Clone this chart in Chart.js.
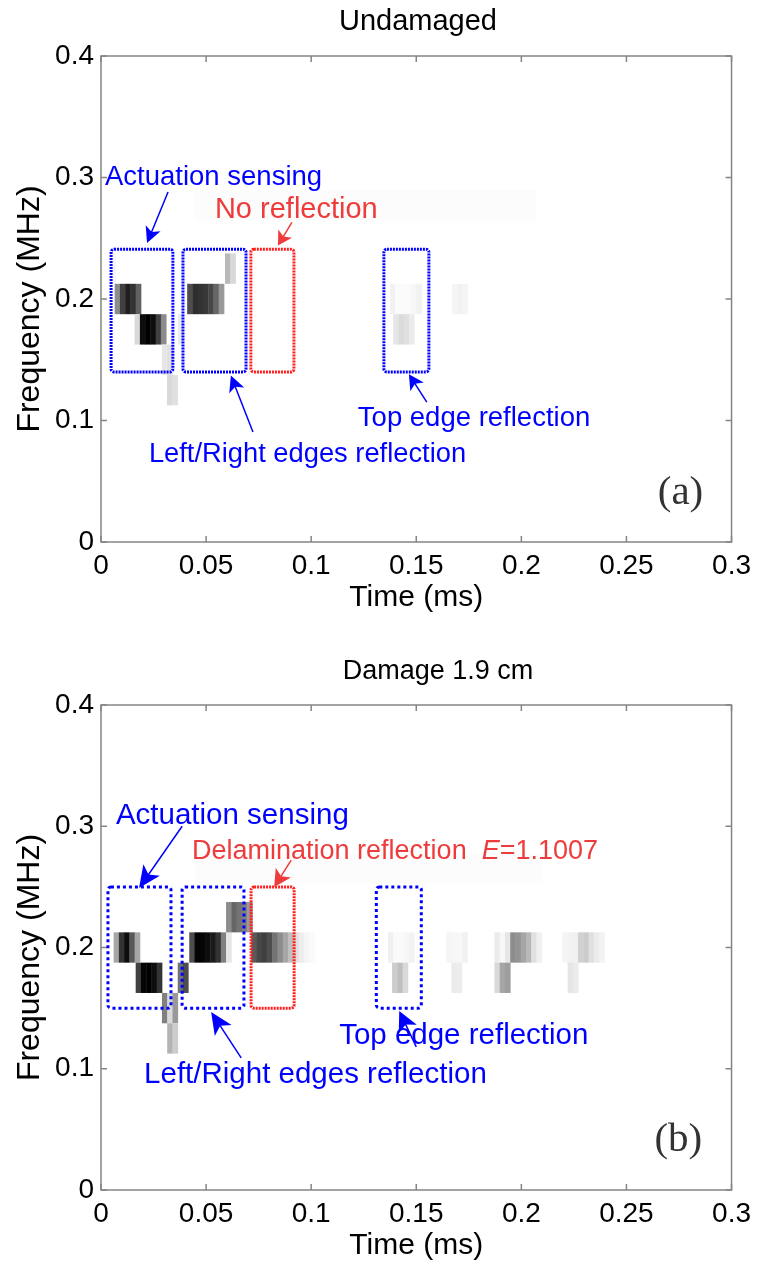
<!DOCTYPE html>
<html>
<head>
<meta charset="utf-8">
<script src="https://cdn.jsdelivr.net/npm/chart.js@4.4.1/dist/chart.umd.min.js"></script>
<style>
  body { margin: 0; background: #fff; }
  canvas { display: block; }
</style>
</head>
<body>
<canvas id="panel-a" width="758" height="630"></canvas>
<canvas id="panel-b" width="758" height="631"></canvas>
<script>
const xTicks = [0, 0.05, 0.1, 0.15, 0.2, 0.25, 0.3];
const xTickLabels = ["0", "0.05", "0.1", "0.15", "0.2", "0.25", "0.3"];
const yTicks = [0, 0.1, 0.2, 0.3, 0.4];
const yTickLabels = ["0", "0.1", "0.2", "0.3", "0.4"];

const timeStep = 0.0025; // ms per spectrogram column
const freqStep = 0.025;  // MHz per spectrogram row

// Undamaged plate: one run = start time, frequency row, gray level of each column (0 white, 1 black)
const undamagedStart = [0.0045, 0.0065, 0.016, 0.029, 0.0314, 0.0366, 0.041, 0.059, 0.1375, 0.139, 0.167];
const undamagedFreq = [0.225, 0.2, 0.175, 0.15, 0.125, 0.175, 0.2, 0.225, 0.2, 0.175, 0.2];
const undamagedLevels = [
  [0.04],
  [0.45, 0.75, 0.88, 0.8, 0.62],
  [0.15, 0.95, 1.0, 0.95, 0.75, 0.45],
  [0.1, 0.12],
  [0.15, 0.12],
  [0.08],
  [0.7, 0.82, 0.8, 0.78, 0.72, 0.6, 0.4],
  [0.28, 0.15],
  [0.05, 0.02, 0.02, 0.02, 0.03, 0.05],
  [0.1, 0.14, 0.12, 0.08],
  [0.04, 0.05, 0.04]
];
// faint wide wash above the main band
const undamagedWashStart = [0.044];
const undamagedWashEnd = [0.207];
const undamagedWashFreq = [0.277];
const undamagedWashLevel = [0.011];

// Plate with 1.9 cm delamination
const damagedStart = [0.006, 0.0165, 0.029, 0.0315, 0.0365, 0.042, 0.0595, 0.0715, 0.1365, 0.1385, 0.1643, 0.1667, 0.1872, 0.1872, 0.2195, 0.222];
const damagedFreq = [0.2, 0.175, 0.15, 0.125, 0.175, 0.2, 0.225, 0.2, 0.2, 0.175, 0.2, 0.175, 0.2, 0.175, 0.2, 0.175];
const damagedLevels = [
  [0.35, 0.8, 0.95, 0.65, 0.35],
  [0.75, 0.98, 1.0, 0.95, 0.8],
  [0.5, 0.15, 0.4],
  [0.3, 0.2],
  [0.55, 0.7],
  [0.7, 0.98, 0.98, 0.95, 0.9, 0.8, 0.5, 0.1],
  [0.45, 0.6, 0.55, 0.5, 0.4],
  [0.65, 0.72, 0.75, 0.7, 0.55, 0.45, 0.35, 0.25, 0.12, 0.07, 0.04, 0.02],
  [0.06, 0.02, 0.02, 0.03, 0.05],
  [0.2, 0.25, 0.15],
  [0.04, 0.03, 0.03, 0.05],
  [0.08, 0.07],
  [0.08, 0.03, 0.1, 0.45, 0.42, 0.35, 0.28, 0.12, 0.06],
  [0.15, 0.35, 0.38],
  [0.04, 0.05, 0.06, 0.18, 0.2, 0.12, 0.08, 0.05],
  [0.1, 0.08]
];
const damagedWashStart = [0.045];
const damagedWashEnd = [0.21];
const damagedWashFreq = [0.265];
const damagedWashLevel = [0.01];

const SANS = "'Liberation Sans', Arial, sans-serif";
const SERIF = "'Liberation Serif', 'Times New Roman', serif";
const BLUE = "#0000ff";
const RED_TEXT = "#ee3b3b";
const RED_BOX = "#ff1e1e";

function buildCells(starts, freqs, levels, washStart, washEnd, washFreq, washLevel) {
  const cells = [];
  for (let i = 0; i < washStart.length; i++) {
    cells.push({ x: (washStart[i] + washEnd[i]) / 2, y: washFreq[i], w: washEnd[i] - washStart[i], v: washLevel[i] });
  }
  for (let r = 0; r < starts.length; r++) {
    for (let c = 0; c < levels[r].length; c++) {
      cells.push({ x: starts[r] + (c + 0.5) * timeStep, y: freqs[r], w: timeStep, v: levels[r][c] });
    }
  }
  return cells;
}

// gray cells of the spectrogram, placed through the chart scales
const heatmapPlugin = {
  id: "heatmap",
  beforeDatasetsDraw(chart) {
    const { ctx, chartArea, scales } = chart;
    ctx.save();
    ctx.beginPath();
    ctx.rect(chartArea.left, chartArea.top, chartArea.right - chartArea.left, chartArea.bottom - chartArea.top);
    ctx.clip();
    for (const cell of chart.data.datasets[0].data) {
      const x0 = scales.x.getPixelForValue(cell.x - cell.w / 2);
      const x1 = scales.x.getPixelForValue(cell.x + cell.w / 2);
      const y0 = scales.y.getPixelForValue(cell.y + freqStep / 2);
      const y1 = scales.y.getPixelForValue(cell.y - freqStep / 2);
      const g = Math.round(255 * (1 - cell.v));
      ctx.fillStyle = `rgb(${g},${g},${g})`;
      ctx.fillRect(x0, y0, x1 - x0 + 0.4, y1 - y0);
    }
    ctx.restore();
  }
};

// box frame with inward ticks on all four sides
const framePlugin = {
  id: "frame",
  afterDraw(chart) {
    const { ctx, chartArea: a, scales } = chart;
    ctx.save();
    ctx.strokeStyle = "#858585";
    ctx.lineWidth = 1.5;
    ctx.strokeRect(a.left, a.top, a.right - a.left, a.bottom - a.top);
    ctx.beginPath();
    for (const v of xTicks) {
      const x = scales.x.getPixelForValue(v);
      ctx.moveTo(x, a.bottom); ctx.lineTo(x, a.bottom - 6);
      ctx.moveTo(x, a.top); ctx.lineTo(x, a.top + 6);
    }
    for (const v of yTicks) {
      const y = scales.y.getPixelForValue(v);
      ctx.moveTo(a.left, y); ctx.lineTo(a.left + 6, y);
      ctx.moveTo(a.right, y); ctx.lineTo(a.right - 6, y);
    }
    ctx.stroke();
    ctx.restore();
  }
};

function drawArrow(ctx, x1, y1, x2, y2, color, len, half) {
  const ang = Math.atan2(y2 - y1, x2 - x1);
  const c = Math.cos(ang), s = Math.sin(ang);
  ctx.strokeStyle = color;
  ctx.fillStyle = color;
  ctx.lineWidth = 1.5;
  ctx.beginPath();
  ctx.moveTo(x1, y1);
  ctx.lineTo(x2 - c * len * 0.7, y2 - s * len * 0.7);
  ctx.stroke();
  ctx.beginPath();
  ctx.moveTo(x2, y2);
  ctx.lineTo(x2 - c * len + s * half, y2 - s * len - c * half);
  ctx.lineTo(x2 - c * len * 0.75, y2 - s * len * 0.75);
  ctx.lineTo(x2 - c * len - s * half, y2 - s * len + c * half);
  ctx.closePath();
  ctx.fill();
}

// panel titles, dotted boxes, arrows and labels written in data coordinates
const notesPlugin = {
  id: "notes",
  afterDraw(chart, args, opts) {
    const { ctx, scales, chartArea } = chart;
    const px = (t) => scales.x.getPixelForValue(t);
    const py = (f) => scales.y.getPixelForValue(f);
    ctx.save();
    ctx.fillStyle = "#000";
    ctx.textAlign = "center";
    ctx.textBaseline = "middle";
    ctx.font = opts.titleSize + "px " + SANS;
    ctx.fillText(opts.title, opts.titleX, opts.titleY);

    // vertical axis name, sitting a little below the middle of the axis
    ctx.save();
    ctx.translate(30, (chartArea.top + chartArea.bottom) / 2 + 10);
    ctx.rotate(-Math.PI / 2);
    ctx.font = "32px " + SANS;
    ctx.fillText("Frequency (MHz)", 0, 0);
    ctx.restore();

    for (const b of opts.boxes || []) {
      const x0 = px(b.t0), x1 = px(b.t1), y0 = py(b.f1), y1 = py(b.f0);
      ctx.strokeStyle = b.color;
      ctx.lineWidth = 3;
      ctx.setLineDash(b.dash);
      ctx.beginPath();
      ctx.roundRect(x0, y0, x1 - x0, y1 - y0, 3);
      ctx.stroke();
    }
    ctx.setLineDash([]);
    for (const ar of opts.arrows || []) {
      drawArrow(ctx, px(ar.t0), py(ar.f0), px(ar.t1), py(ar.f1), ar.color, ar.len, ar.half);
    }
    ctx.textBaseline = "middle";
    ctx.textAlign = "left";
    for (const tx of opts.texts || []) {
      let x = px(tx.t);
      const y = py(tx.f);
      for (const part of tx.parts) {
        ctx.font = (part.italic ? "italic " : "") + tx.size + "px " + (tx.family || SANS);
        ctx.fillStyle = tx.color;
        ctx.fillText(part.text, x, y);
        x += ctx.measureText(part.text).width;
      }
    }
    ctx.restore();
  }
};

function makePanel(canvasId, cells, layout, notes) {
  const config = {
    type: "scatter",
    data: {
      datasets: [{ data: cells, pointRadius: 0, pointHoverRadius: 0 }]
    },
    options: {
      responsive: false,
      animation: false,
      devicePixelRatio: 1,
      events: [],
      layout: { padding: { left: 0, right: 26, top: layout.top, bottom: 0 } },
      plugins: {
        legend: { display: false },
        tooltip: { enabled: false },
        title: { display: false },
        notes: notes
      },
      scales: {
        x: {
          type: "linear",
          min: 0,
          max: 0.3,
          afterBuildTicks: (scale) => { scale.ticks = xTicks.map((v) => ({ value: v })); },
          afterFit: (scale) => { scale.height = layout.xHeight; },
          ticks: {
            callback: (value, index) => xTickLabels[index],
            color: "#000",
            font: { family: SANS, size: 28 },
            padding: 7,
            maxRotation: 0,
            autoSkip: false
          },
          grid: { display: false, drawTicks: false },
          border: { display: false },
          title: {
            display: true,
            text: "Time (ms)",
            color: "#000",
            font: { family: SANS, size: 30, lineHeight: 1 },
            padding: { top: 0, bottom: layout.xTitleBottom }
          }
        },
        y: {
          type: "linear",
          min: 0,
          max: 0.4,
          afterBuildTicks: (scale) => { scale.ticks = yTicks.map((v) => ({ value: v })); },
          afterFit: (scale) => { scale.width = 101; },
          ticks: {
            callback: (value, index) => yTickLabels[index],
            color: "#000",
            font: { family: SANS, size: 28 },
            padding: 7,
            autoSkip: false
          },
          grid: { display: false, drawTicks: false },
          border: { display: false },
          title: { display: false }
        }
      }
    },
    plugins: [heatmapPlugin, framePlugin, notesPlugin]
  };
  return new Chart(document.getElementById(canvasId), config);
}

const dotsDense = [2, 1];
const dotsSparse = [3, 3];

makePanel(
  "panel-a",
  buildCells(undamagedStart, undamagedFreq, undamagedLevels, undamagedWashStart, undamagedWashEnd, undamagedWashFreq, undamagedWashLevel),
  { top: 56, xHeight: 88, xTitleBottom: 17 },
  {
    title: "Undamaged",
    titleSize: 29,
    titleX: 418,
    titleY: 22,
    boxes: [
      { t0: 0.0048, t1: 0.0342, f0: 0.14, f1: 0.241, color: BLUE, dash: dotsDense },
      { t0: 0.039, t1: 0.069, f0: 0.14, f1: 0.241, color: BLUE, dash: dotsDense },
      { t0: 0.0713, t1: 0.0918, f0: 0.14, f1: 0.241, color: RED_BOX, dash: dotsDense },
      { t0: 0.1346, t1: 0.156, f0: 0.14, f1: 0.241, color: BLUE, dash: dotsDense }
    ],
    arrows: [
      { t0: 0.0319, f0: 0.288, t1: 0.0219, f1: 0.246, color: BLUE, len: 16, half: 8 },
      { t0: 0.0908, f0: 0.263, t1: 0.0842, f1: 0.244, color: RED_TEXT, len: 14, half: 8 },
      { t0: 0.0723, f0: 0.0905, t1: 0.0618, f1: 0.137, color: BLUE, len: 16, half: 8 },
      { t0: 0.155, f0: 0.1152, t1: 0.1465, f1: 0.138, color: BLUE, len: 15, half: 8 }
    ],
    texts: [
      { t: 0.0019, f: 0.300, size: 27.5, color: BLUE, parts: [{ text: "Actuation sensing" }] },
      { t: 0.0542, f: 0.273, size: 29, color: RED_TEXT, parts: [{ text: "No reflection" }] },
      { t: 0.0228, f: 0.0724, size: 27.3, color: BLUE, parts: [{ text: "Left/Right edges reflection" }] },
      { t: 0.1222, f: 0.102, size: 27.5, color: BLUE, parts: [{ text: "Top edge reflection" }] },
      { t: 0.2649, f: 0.040, size: 41, color: "#333", family: SERIF, parts: [{ text: "(a)" }] }
    ]
  }
);

makePanel(
  "panel-b",
  buildCells(damagedStart, damagedFreq, damagedLevels, damagedWashStart, damagedWashEnd, damagedWashFreq, damagedWashLevel),
  { top: 75, xHeight: 71, xTitleBottom: 0 },
  {
    title: "Damage 1.9 cm",
    titleSize: 27,
    titleX: 438,
    titleY: 42,
    boxes: [
      { t0: 0.0033, t1: 0.0333, f0: 0.15, f1: 0.25, color: BLUE, dash: dotsSparse },
      { t0: 0.0386, t1: 0.068, f0: 0.15, f1: 0.25, color: BLUE, dash: dotsSparse },
      { t0: 0.0714, t1: 0.0919, f0: 0.15, f1: 0.25, color: RED_BOX, dash: dotsDense },
      { t0: 0.131, t1: 0.1524, f0: 0.15, f1: 0.25, color: BLUE, dash: dotsSparse }
    ],
    arrows: [
      { t0: 0.0386, f0: 0.300, t1: 0.0181, f1: 0.249, color: BLUE, len: 22, half: 10 },
      { t0: 0.0905, f0: 0.272, t1: 0.0824, f1: 0.250, color: RED_TEXT, len: 17, half: 9 },
      { t0: 0.0667, f0: 0.1089, t1: 0.0524, f1: 0.1468, color: BLUE, len: 22, half: 10 },
      { t0: 0.150, f0: 0.118, t1: 0.1419, f1: 0.1476, color: BLUE, len: 20, half: 10 }
    ],
    texts: [
      { t: 0.0071, f: 0.3085, size: 29.5, color: BLUE, parts: [{ text: "Actuation sensing" }] },
      { t: 0.0433, f: 0.279, size: 27, color: RED_TEXT, parts: [{ text: "Delamination reflection  " }, { text: "E", italic: true }, { text: "=1.1007" }] },
      { t: 0.0205, f: 0.0948, size: 29.5, color: BLUE, parts: [{ text: "Left/Right edges reflection" }] },
      { t: 0.1133, f: 0.127, size: 29.5, color: BLUE, parts: [{ text: "Top edge reflection" }] },
      { t: 0.2633, f: 0.0412, size: 41, color: "#333", family: SERIF, parts: [{ text: "(b)" }] }
    ]
  }
);
</script>
</body>
</html>
